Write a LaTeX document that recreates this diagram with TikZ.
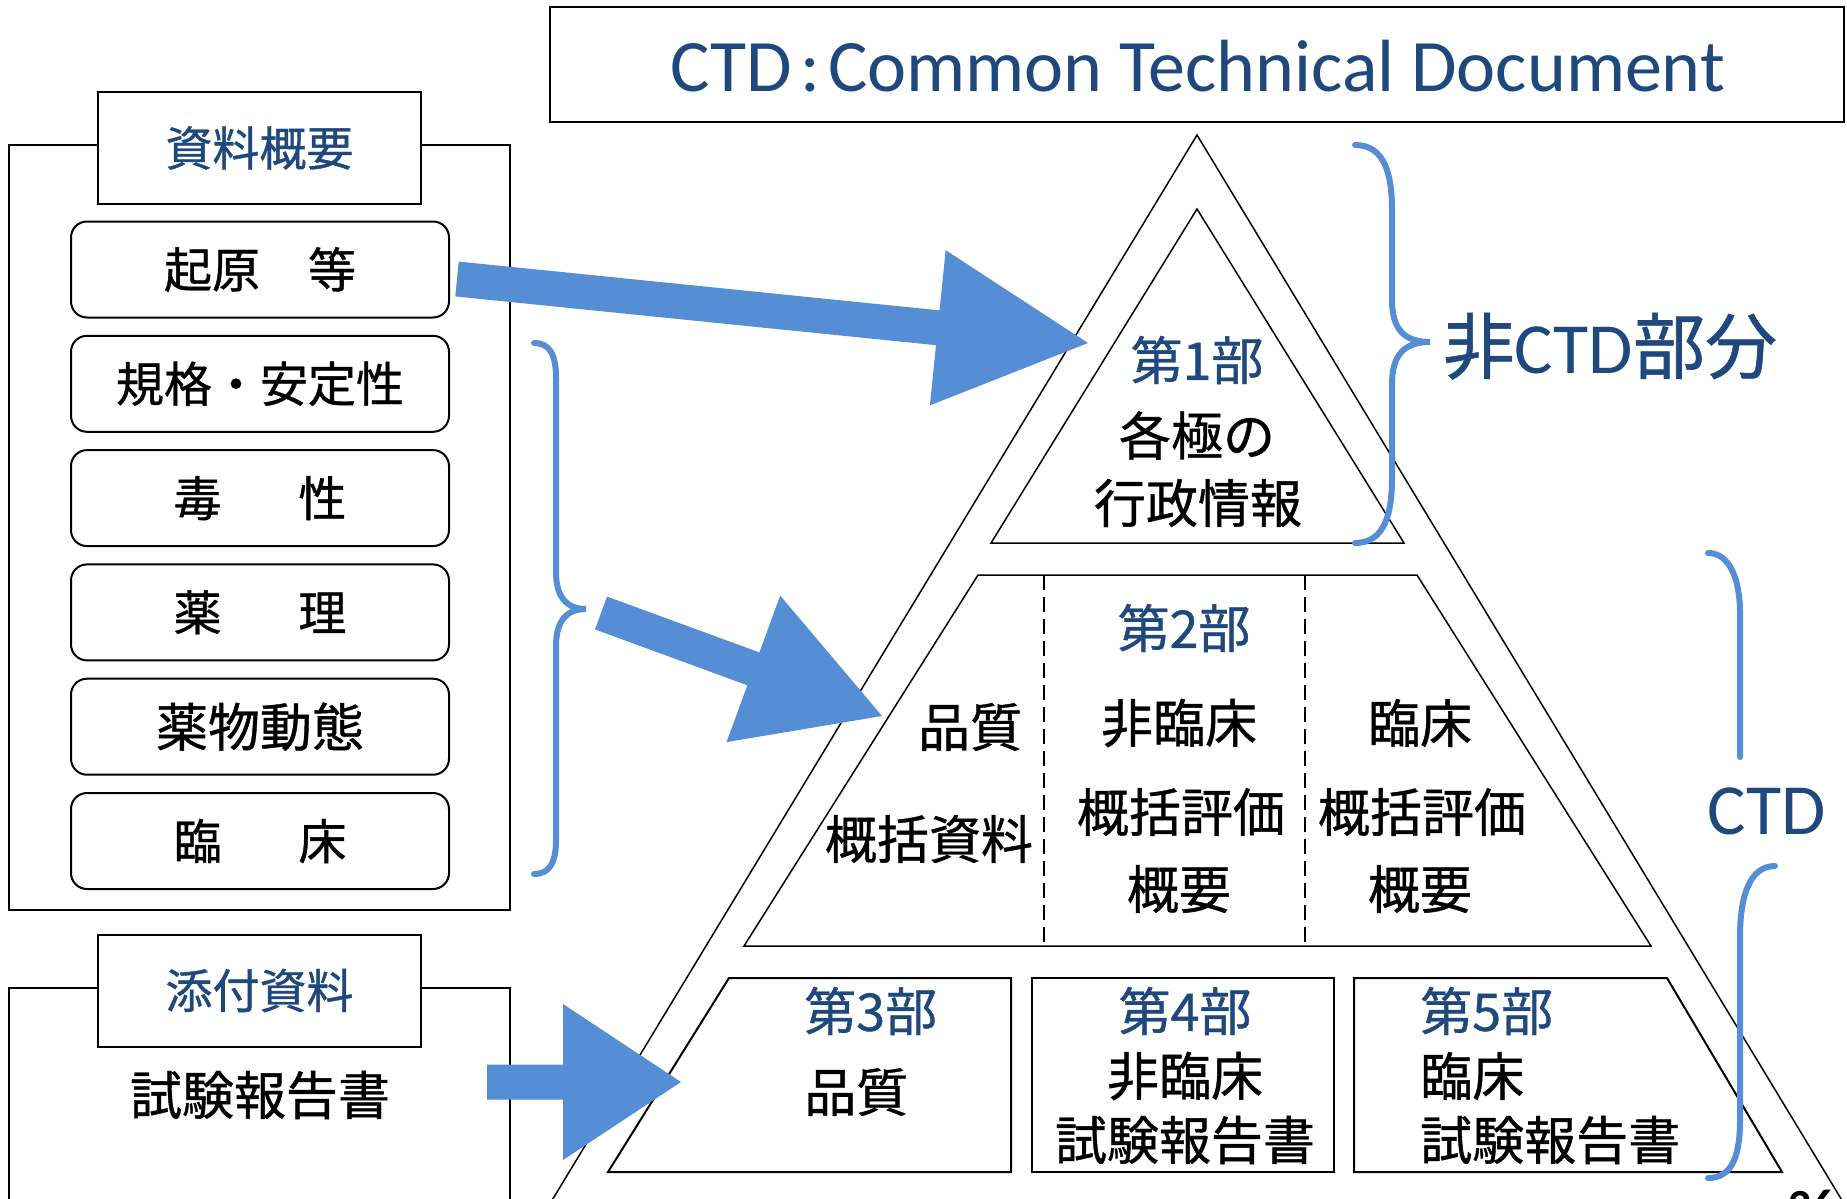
\documentclass[tikz,border=0pt]{standalone}
\usepackage{fontspec}
\setmainfont{Noto Sans CJK JP}[FakeBold=0.8]
\newfontfamily\lat{Carlito}
\usetikzlibrary{calc}
\definecolor{tblue}{RGB}{31,73,125}
\definecolor{ablue}{RGB}{85,142,213}
% block arrow: #1 name, #2 tail, #3 tip, #4 half shaft, #5 head length, #6 half head width
\newcommand\blockarr[6]{%
  \coordinate (#1hb) at ($(#3)!#5!(#2)$);
  \fill[ablue] ($(#2)!#4!90:(#3)$) -- ($(#1hb)!#4!90:(#3)$) -- ($(#1hb)!#6!90:(#3)$) -- (#3)
     -- ($(#1hb)!#6!-90:(#3)$) -- ($(#1hb)!#4!-90:(#3)$) -- ($(#2)!#4!-90:(#3)$) -- cycle;
}
\begin{document}
\begin{tikzpicture}[x=1pt,y=-1pt,
  lbl/.style={draw, line width=2pt, fill=white, minimum width=323pt, minimum height=112pt, inner sep=0pt, text=tblue, font=\fontsize{47}{56}\selectfont},
  rbox/.style={draw, rounded corners=16pt, line width=2pt, minimum width=378pt, minimum height=96pt, inner sep=0pt, font=\fontsize{48}{58}\selectfont},
  frame/.style={draw, line width=2pt},
  jt/.style={inner sep=0pt, font=\fontsize{52}{62}\selectfont},
  bt/.style={jt, text=tblue},
  brace/.style={draw=ablue, line width=6pt, line cap=round},
  pyr/.style={draw, line width=1.5pt},
  part/.style={draw, line width=2pt},
  dashline/.style={draw, line width=2.8pt, dash pattern=on 15pt off 7pt}]
\useasboundingbox (0,0) rectangle (1847,1199);
\fill[white] (0,0) rectangle (1847,1199);
\clip (0,0) rectangle (1847,1199);

% ---- left frames ----
\draw[frame] (9,145) rectangle (510,910);
\node[lbl] (lab1) at (259.5,148) {資料概要};
\node[rbox] (b1) at (260,269.5) {起原　等};
\node[rbox] (b2) at (260,383.8) {規格・安定性};
\node[rbox] (b3) at (260,498.1) {毒\hspace{1.6em}性};
\node[rbox] (b4) at (260,612.4) {薬\hspace{1.6em}理};
\node[rbox, font=\fontsize{52}{62}\selectfont] (b5) at (260,726.7) {薬物動態};
\node[rbox] (b6) at (260,841) {臨\hspace{1.6em}床};

\draw[frame] (9,1250) -- (9,988) -- (510,988) -- (510,1250);
\node[lbl] (lab2) at (259.5,990.5) {添付資料};
\node[jt] (rep) at (260,1095) {試験報告書};

% ---- title ----
\draw[line width=2pt] (550,7) rectangle (1844,122);
\node[anchor=base, inner sep=0pt, text=tblue, font=\lat\fontsize{74}{88}\selectfont] (title) at (1198,92)
  {CTD\hspace{8pt}:\hspace{8pt}Common Technical Document};

% ---- pyramid ----
\coordinate (apex) at (1197,135);
\draw[pyr] (531,1235) -- (apex) -- (1863,1235);
\draw[pyr] (1197,209) -- (1404,543) -- (991,543) -- cycle;
\draw[pyr] (978,575) -- (1417,575) -- (1651,946) -- (744,946) -- cycle;
\draw[dashline] (1044,575) -- (1044,946);
\draw[dashline] (1305,575) -- (1305,946);
\draw[part] (729,978) -- (1011,978) -- (1011,1172) -- (608,1172) -- cycle;
\draw[part] (1032,978) rectangle (1334,1172);
\draw[part] (1354,978) -- (1667,978) -- (1782,1172) -- (1354,1172) -- cycle;

% part 1
\node[bt] (p1) at (1197,360) {第1部};
\node[jt] (p1a) at (1197,435.5) {各極の};
\node[jt] (p1b) at (1198,503) {行政情報};
% part 2
\node[bt] (p2) at (1184,628) {第2部};
\node[jt] (q1) at (970,727) {品質};
\node[jt] (q2) at (929,839) {概括資料};
\node[jt] (n1) at (1179,723) {非臨床};
\node[jt] (n2) at (1181,812) {概括評価};
\node[jt] (n3) at (1179,889) {概要};
\node[jt] (c1) at (1420,723) {臨床};
\node[jt] (c2) at (1422,812) {概括評価};
\node[jt] (c3) at (1420,889) {概要};
% part 3-5
\node[bt, anchor=west] (p3) at (804,1011) {第3部};
\node[jt, anchor=west] (p3a) at (804,1092) {品質};
\node[bt] (p4) at (1185,1011) {第4部};
\node[jt] (p4a) at (1185,1076) {非臨床};
\node[jt] (p4b) at (1185,1140) {試験報告書};
\node[bt, anchor=west] (p5) at (1420,1011) {第5部};
\node[jt, anchor=west] (p5a) at (1420,1076) {臨床};
\node[jt, anchor=west] (p5b) at (1420,1140) {試験報告書};

% ---- arrows ----
\coordinate (a1t) at (457,279); \coordinate (a1h) at (1088,343);
\blockarr{a1}{a1t}{a1h}{17.5pt}{151pt}{78pt}
\coordinate (a2t) at (601,613); \coordinate (a2h) at (882,716);
\blockarr{a2}{a2t}{a2h}{17.5pt}{137pt}{78pt}
\coordinate (a3t) at (487,1082); \coordinate (a3h) at (681,1082);
\blockarr{a3}{a3t}{a3h}{17.5pt}{118pt}{78pt}

% ---- braces ----
\draw[brace] (534,343) .. controls (550,343) and (556,355) .. (556,378) -- (556,572)
  .. controls (556,595) and (565,609) .. (586,609) .. controls (565,609) and (556,623) .. (556,646)
  -- (556,840) .. controls (556,862) and (550,874) .. (534,874);
\draw[brace] (1355,145) .. controls (1385,145) and (1392,175) .. (1392,210) -- (1392,300)
  .. controls (1392,330) and (1405,342) .. (1430,342) .. controls (1405,342) and (1392,354) .. (1392,384)
  -- (1392,478) .. controls (1392,513) and (1385,543) .. (1355,543);
\draw[brace] (1708,553) .. controls (1730,553) and (1740,580) .. (1740,613) -- (1740,757);
\draw[brace] (1775,866) .. controls (1750,866) and (1740,895) .. (1740,937) -- (1740,1120)
  .. controls (1740,1160) and (1730,1178) .. (1708,1178);

\node[anchor=base, inner sep=0pt, text=tblue, font=\fontsize{72}{86}\selectfont] (nonctd) at (1610,373) {非{\lat CTD}部分};
\node[anchor=base, inner sep=0pt, text=tblue, font=\lat\fontsize{72}{86}\selectfont] (ctd) at (1767,834) {CTD};

\node[anchor=base west, inner sep=0pt, font=\lat\bfseries\fontsize{46}{50}\selectfont] (pg) at (1788,1221) {26};
\end{tikzpicture}
\end{document}
